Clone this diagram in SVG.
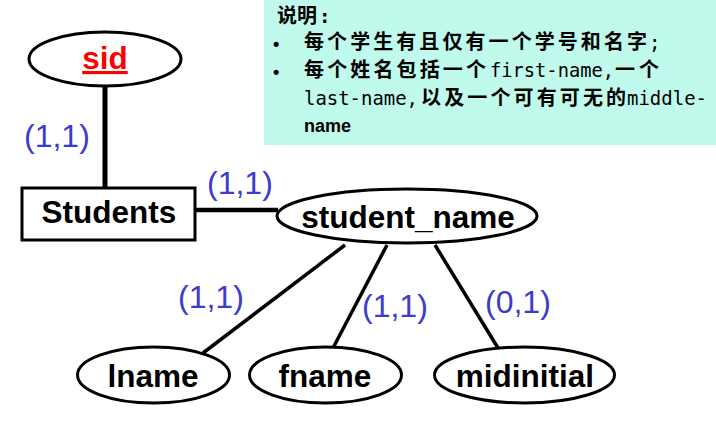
<svg xmlns="http://www.w3.org/2000/svg" width="716" height="422" viewBox="0 0 716 422">
<style>
.ent{fill:#fff;stroke:#000;stroke-width:3}
.attr{fill:#fff;stroke:#000;stroke-width:3}
.lbl{font-family:"Liberation Sans",Arial,sans-serif;font-weight:bold;font-size:31.5px;fill:#000;text-anchor:middle}
.card{font-family:"Liberation Sans",Arial,sans-serif;font-size:32px;fill:#3C3CCC}
.cjk{font-family:"Noto Sans CJK SC","Noto Sans CJK JP",sans-serif;font-weight:bold;font-size:20px;fill:#000}
.lat{font-family:"DejaVu Sans Mono","Liberation Mono",monospace;font-size:19px;fill:#000}
.sans{font-family:"Liberation Sans",Arial,sans-serif;font-weight:bold;font-size:18px;fill:#000}
.conn line{stroke:#000}
</style>
<g id="note">
<rect x="264" y="0" width="452" height="145" fill="#C0FAEC"/>
<text class="cjk" x="277" y="23">说明</text>
<text class="lat" x="319" y="23" font-weight="bold">:</text>
<text class="sans" x="273" y="50">•</text>
<text class="cjk" x="304" y="49" textLength="343" lengthAdjust="spacing">每个学生有且仅有一个学号和名字</text>
<text class="lat" x="649" y="49">;</text>
<text class="sans" x="273" y="78">•</text>
<text class="cjk" x="304" y="77" textLength="182" lengthAdjust="spacing">每个姓名包括一个</text>
<text class="lat" x="490" y="77" textLength="124" lengthAdjust="spacingAndGlyphs">first-name,</text>
<text class="cjk" x="615" y="77" textLength="44" lengthAdjust="spacing">一个</text>
<text class="lat" x="304" y="105" textLength="114" lengthAdjust="spacingAndGlyphs">last-name,</text>
<text class="cjk" x="421" y="105" textLength="205" lengthAdjust="spacing">以及一个可有可无的</text>
<text class="lat" x="627" y="105" textLength="80" lengthAdjust="spacingAndGlyphs">middle-</text>
<text class="sans" x="304" y="132">name</text>
</g>
<g class="conn" id="connectors">
<line x1="105" y1="86" x2="105" y2="188" stroke-width="5"/>
<line x1="195" y1="210" x2="278" y2="210" stroke-width="4.5"/>
<line x1="345" y1="245" x2="203" y2="353" stroke-width="3.5"/>
<line x1="387" y1="245" x2="333" y2="348" stroke-width="3.5"/>
<line x1="435" y1="245" x2="498" y2="348" stroke-width="3.5"/>
</g>
<g id="cards">
<text class="card" x="24" y="147">(1,1)</text>
<text class="card" x="207" y="194">(1,1)</text>
<text class="card" x="178" y="308">(1,1)</text>
<text class="card" x="362" y="317">(1,1)</text>
<text class="card" x="485" y="313">(0,1)</text>
</g>
<g id="sid">
<ellipse class="attr" cx="105" cy="59" rx="76" ry="27"/>
<text class="lbl" x="105" y="69" style="fill:#FF0000" text-decoration="underline">sid</text>
</g>
<g id="Students">
<rect class="ent" x="22" y="188" width="173" height="52"/>
<text class="lbl" x="109" y="223">Students</text>
</g>
<g id="student_name">
<ellipse class="attr" cx="407" cy="216" rx="130" ry="27"/>
<text class="lbl" x="408" y="228">student_name</text>
</g>
<g id="lname">
<ellipse class="attr" cx="153.5" cy="375" rx="76" ry="28"/>
<text class="lbl" x="153" y="387">lname</text>
</g>
<g id="fname">
<ellipse class="attr" cx="325.5" cy="375" rx="76" ry="28"/>
<text class="lbl" x="325" y="387">fname</text>
</g>
<g id="midinitial">
<ellipse class="attr" cx="524.5" cy="375" rx="90" ry="28"/>
<text class="lbl" x="525" y="387">midinitial</text>
</g>
</svg>
